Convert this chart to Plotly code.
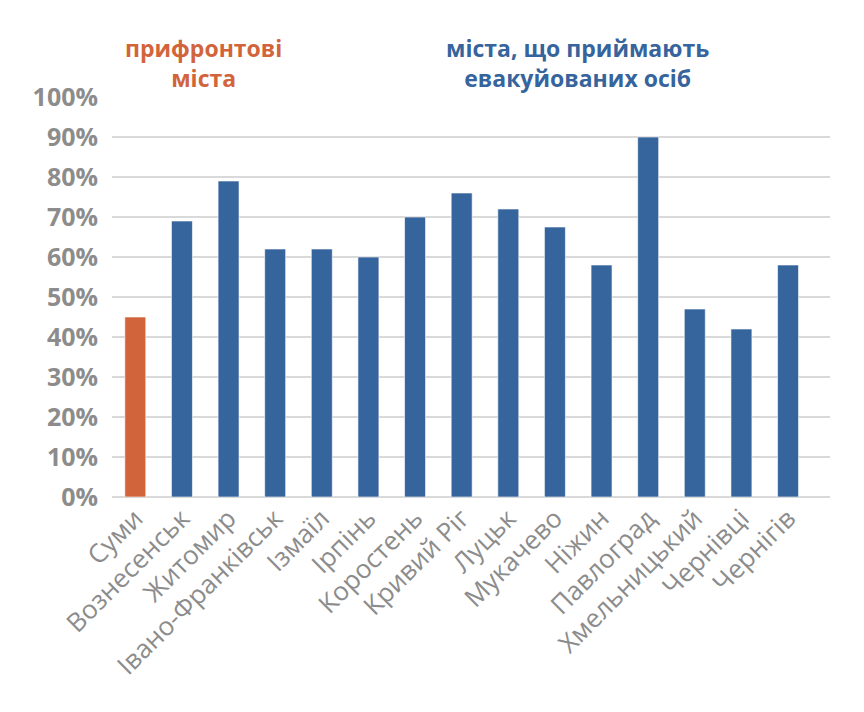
import plotly.graph_objects as go

front_cities = ["Суми"]
front_values = [0.45]

host_cities = ["Вознесенськ", "Житомир", "Івано-Франківськ", "Ізмаїл", "Ірпінь",
               "Коростень", "Кривий Ріг", "Луцьк", "Мукачево", "Ніжин",
               "Павлоград", "Хмельницький", "Чернівці", "Чернігів"]
host_values = [0.69, 0.79, 0.62, 0.62, 0.60, 0.70, 0.76, 0.72, 0.675, 0.58,
               0.90, 0.47, 0.42, 0.58]

y_ticks = [0, 0.1, 0.2, 0.3, 0.4, 0.5, 0.6, 0.7, 0.8, 0.9, 1.0]

front_title = ["прифронтові", "міста"]
host_title = ["міста, що приймають", "евакуйованих осіб"]

ORANGE = "#D2643C"
BLUE = "#36649C"
GREY = "#8C8C8C"
FONT = "Open Sans"

all_cities = front_cities + host_cities

fig = go.Figure()
fig.add_trace(go.Bar(x=front_cities, y=front_values, width=0.45,
                     marker=dict(color=ORANGE, line=dict(color="rgba(255,255,255,0.6)", width=1))))
fig.add_trace(go.Bar(x=host_cities, y=host_values, width=0.45,
                     marker=dict(color=BLUE, line=dict(color="rgba(255,255,255,0.6)", width=1))))

annotations = [
    dict(text="<b>" + "<br>".join(front_title) + "</b>", xref="paper", yref="paper",
         x=0.127, y=1.0845, xanchor="center", yanchor="middle", showarrow=False,
         font=dict(family=FONT, size=23, color=ORANGE)),
    dict(text="<b>" + "<br>".join(host_title) + "</b>", xref="paper", yref="paper",
         x=0.648, y=1.0845, xanchor="center", yanchor="middle", showarrow=False,
         font=dict(family=FONT, size=23, color=BLUE)),
]

fig.update_layout(
    width=864, height=712,
    margin=dict(l=104, r=42, t=89, b=223),
    paper_bgcolor="white", plot_bgcolor="white",
    showlegend=False, barmode="overlay",
    font=dict(family=FONT, color=GREY),
    xaxis=dict(categoryorder="array", categoryarray=all_cities,
               range=[-0.5, 14.9], tickangle=-45,
               tickfont=dict(family=FONT, size=26, color=GREY),
               showgrid=False, showline=False, ticks=""),
    yaxis=dict(range=[0, 1.0], tickvals=y_ticks, tickformat=".0%",
               tickfont=dict(family=FONT, size=25, color=GREY, weight="bold"),
               showgrid=True, gridcolor="#D9D9D9", gridwidth=1.5,
               zeroline=True, zerolinecolor="#D9D9D9", zerolinewidth=1.5,
               ticks="", ticklen=0, ticklabelstandoff=13),
    annotations=annotations,
)

fig.write_html("out.html")
